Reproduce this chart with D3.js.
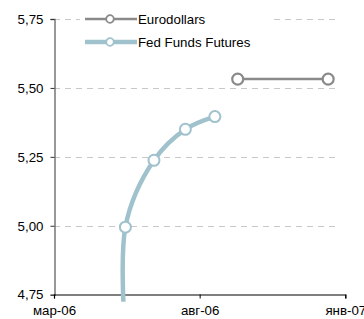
<html>
    <head>
        <style>
            body { margin: 0; background: #fff; }
            text { font-family: Arial, "Liberation Sans", sans-serif; }
        </style>
    </head>

    <body>
        <script src='https://d3js.org/d3.v7.min.js' charset='utf-8'></script>
        <script type="text/javascript">

        // data
        var fedDates = ["2006-05-22", "2006-05-15", "2006-06-14", "2006-07-17", "2006-08-17"];
        var fedValues = [4.30, 4.995, 5.2375, 5.35, 5.396];
        var fedShown = [false, true, true, true, true];

        var euroDates = ["2006-09-10", "2006-12-14"];
        var euroValues = [5.532, 5.532];

        var yTicks = [4.75, 5.00, 5.25, 5.50, 5.75];
        var xTicks = ["2006-03-01", "2006-08-01", "2007-01-01"];
        var xTickLabels = ["мар-06", "авг-06", "янв-07"];
        var seriesNames = ["Eurodollars", "Fed Funds Futures"];

        var width = 364, height = 319;
        var parse = d3.timeParse("%Y-%m-%d");

        var svg = d3.select("body").append("svg")
            .attr("width", width)
            .attr("height", height);

        var x = d3.scaleTime()
            .domain([parse(xTicks[0]), parse(xTicks[2])])
            .range([54, 345.3]);

        var y = d3.scaleLinear()
            .domain([4.75, 5.75])
            .range([294.7, 19]);

        // clip area (plot area is a bit taller than axis)
        svg.append("clipPath").attr("id", "plot")
            .append("rect")
            .attr("x", 54).attr("y", 0)
            .attr("width", 300).attr("height", 301.7);

        // grid lines
        svg.append("g").selectAll("line")
            .data(yTicks.slice(1))
            .enter().append("line")
                .attr("x1", 54).attr("x2", 338)
                .attr("y1", function(d) { return Math.round(y(d)) + 0.5; })
                .attr("y2", function(d) { return Math.round(y(d)) + 0.5; })
                .attr("stroke", "#c8c8c8")
                .attr("stroke-dasharray", "6,5");

        // legend box hides the grid behind it
        svg.append("rect")
            .attr("x", 80).attr("y", 4)
            .attr("width", 194).attr("height", 50)
            .attr("fill", "#fff");

        // y axis
        var yAxis = d3.axisLeft(y)
            .tickValues(yTicks)
            .tickSize(4)
            .tickPadding(7)
            .tickFormat(function(d) { return d3.format(".2f")(d).replace(".", ","); });

        var gy = svg.append("g")
            .attr("transform", "translate(54.5,0)")
            .call(yAxis);
        gy.select(".domain").attr("stroke", "#777").attr("stroke-width", 1.5);
        gy.selectAll(".tick line").attr("stroke", "#333");
        gy.selectAll("text").attr("font-size", 13.3).attr("fill", "#000");

        // x axis
        var xAxis = d3.axisBottom(x)
            .tickValues(xTicks.map(parse))
            .tickSize(4)
            .tickPadding(7)
            .tickFormat(function(d, i) { return xTickLabels[i]; });

        var gx = svg.append("g")
            .attr("transform", "translate(0,294.5)")
            .call(xAxis);
        gx.select(".domain").attr("stroke", "#000").attr("stroke-width", 1.2);
        gx.selectAll(".tick line").attr("stroke", "#000");
        gx.selectAll("text").attr("font-size", 13.3).attr("fill", "#000");

        // fed funds line
        var fed = fedDates.map(function(d, i) {
            return { date: parse(d), value: fedValues[i], shown: fedShown[i] };
        });
        var euro = euroDates.map(function(d, i) {
            return { date: parse(d), value: euroValues[i] };
        });

        var line = d3.line()
            .x(function(d) { return x(d.date); })
            .y(function(d) { return y(d.value); });

        svg.append("path")
            .datum(fed)
            .attr("clip-path", "url(#plot)")
            .attr("d", line.curve(d3.curveCatmullRom.alpha(0.5)))
            .attr("fill", "none")
            .attr("stroke", "#a0c2cc")
            .attr("stroke-width", 4.5);

        svg.append("g").selectAll("circle")
            .data(fed.filter(function(d) { return d.shown; }))
            .enter().append("circle")
                .attr("cx", function(d) { return x(d.date); })
                .attr("cy", function(d) { return y(d.value); })
                .attr("r", 5.5)
                .attr("fill", "#fff")
                .attr("stroke", "#a0c2cc")
                .attr("stroke-width", 2);

        // eurodollars
        svg.append("path")
            .datum(euro)
            .attr("d", d3.line()
                .x(function(d) { return x(d.date); })
                .y(function(d) { return y(d.value); }))
            .attr("fill", "none")
            .attr("stroke", "#8a8a8a")
            .attr("stroke-width", 2.5);

        svg.append("g").selectAll("circle")
            .data(euro)
            .enter().append("circle")
                .attr("cx", function(d) { return x(d.date); })
                .attr("cy", function(d) { return y(d.value); })
                .attr("r", 5.5)
                .attr("fill", "#fff")
                .attr("stroke", "#8a8a8a")
                .attr("stroke-width", 2.2);

        // legend
        var legendColors = ["#8a8a8a", "#a0c2cc"];
        var legendWidths = [2.5, 4.5];
        var legend = svg.append("g").selectAll("g")
            .data(seriesNames)
            .enter().append("g")
                .attr("transform", function(d, i) { return "translate(0," + (19 + i * 23) + ")"; });

        legend.append("line")
            .attr("x1", 85).attr("x2", 137)
            .attr("stroke", function(d, i) { return legendColors[i]; })
            .attr("stroke-width", function(d, i) { return legendWidths[i]; });

        legend.append("circle")
            .attr("cx", 110).attr("r", 3.8)
            .attr("fill", "#fff")
            .attr("stroke", function(d, i) { return legendColors[i]; })
            .attr("stroke-width", 1.8);

        legend.append("text")
            .attr("x", 138).attr("y", 4.5)
            .attr("font-size", 13.3)
            .text(function(d) { return d; });

        </script>

    </body>
</html>
